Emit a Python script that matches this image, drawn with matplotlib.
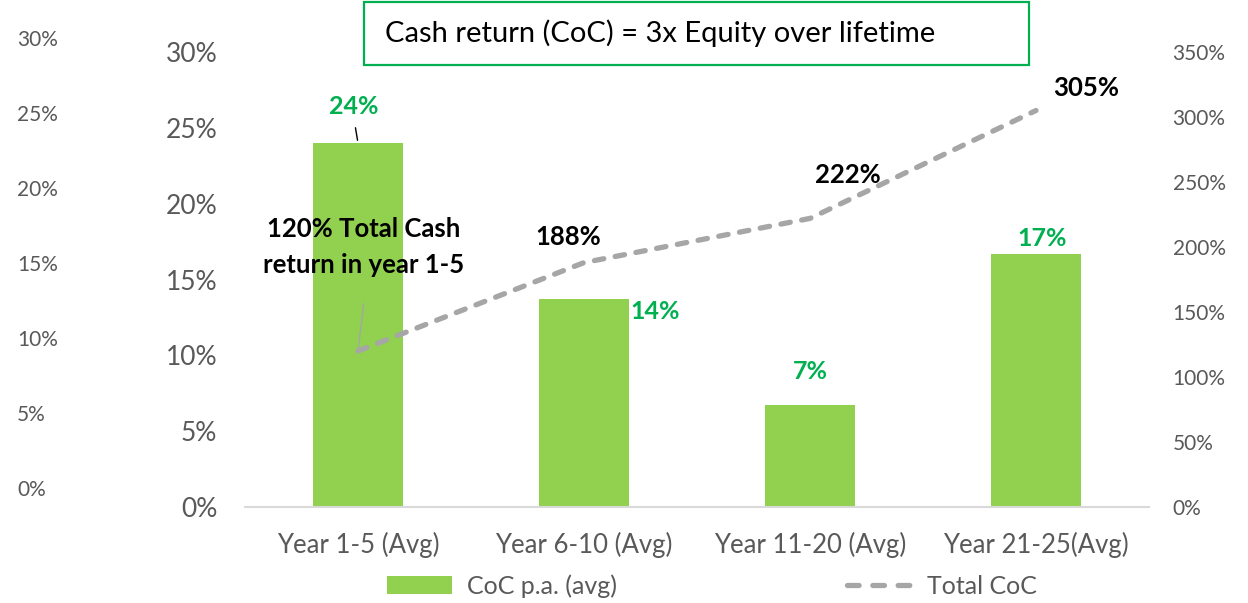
import numpy as np
import matplotlib.pyplot as plt
from matplotlib.ticker import PercentFormatter
from matplotlib.patches import Rectangle, Patch
from matplotlib.lines import Line2D

plt.rcParams['font.family'] = ['Lato', 'DejaVu Sans']

# data
categories = ['Year 1-5 (Avg)', 'Year 6-10 (Avg)', 'Year 11-20 (Avg)', 'Year 21-25(Avg)']
coc_pa = [0.240, 0.137, 0.067, 0.167]      # bars, left axis
total_coc = [1.20, 1.88, 2.22, 3.05]       # dashed line, right axis
left_ticks = [0, 0.05, 0.10, 0.15, 0.20, 0.25, 0.30]
right_ticks = [0, 0.5, 1.0, 1.5, 2.0, 2.5, 3.0, 3.5]

GREEN = '#92D050'
DARKGREEN = '#00B050'
GREY = '#595959'
LINEGREY = '#A6A6A6'

W, H = 1248, 603
fig = plt.figure(figsize=(W / 100, H / 100), dpi=100)

def fx(px):
    return px / W

def fy(py):
    return 1 - py / H

# main axes
ax = fig.add_axes([fx(245), fy(507), fx(1149) - fx(245), fy(52) - fy(507)])
x = np.arange(len(categories))
ax.bar(x, coc_pa, width=0.4, color=GREEN, zorder=2)
ax.set_xlim(-0.5, 3.5)
ax.set_ylim(0, 0.30)
ax.set_yticks(left_ticks)
ax.yaxis.set_major_formatter(PercentFormatter(1, decimals=0))
ax.set_xticks(x)
ax.set_xticklabels(categories)
for s in ['top', 'left', 'right']:
    ax.spines[s].set_visible(False)
ax.spines['bottom'].set_color('#D9D9D9')
ax.spines['bottom'].set_linewidth(1.5)
ax.tick_params(axis='y', length=0, pad=20, labelsize=19, labelcolor=GREY)
ax.tick_params(axis='x', length=0, pad=18, labelsize=18.5, labelcolor=GREY)
ax.patch.set_visible(False)

# bar value labels
bar_offsets = [(-4, 37), (71, -12), (0, 34), (6, 15)]
for i, v in enumerate(coc_pa):
    ax.annotate(f'{v:.0%}', (x[i], v), xytext=bar_offsets[i], textcoords='offset pixels',
                ha='center', va='center', color=DARKGREEN, fontsize=18, fontweight='bold')
# leader line for the first bar label
ax.annotate('', (x[0], coc_pa[0]), xytext=(-3, 18), textcoords='offset pixels',
            arrowprops=dict(arrowstyle='-', color='black', lw=1))

# right axis with cumulative line
ax2 = ax.twinx()
ax2.plot(x, total_coc, color=LINEGREY, lw=3.8, dashes=(1.8, 2.2),
         dash_capstyle='round', solid_capstyle='round', zorder=3)
ax2.set_ylim(0, 3.5)
ax2.set_yticks(right_ticks)
ax2.yaxis.set_major_formatter(PercentFormatter(1, decimals=0))
for s in ax2.spines.values():
    s.set_visible(False)
ax2.tick_params(axis='y', length=0, pad=17, labelsize=15, labelcolor=GREY)

line_labels = [f'{total_coc[0]:.0%} Total Cash\nreturn in year 1-5',
               f'{total_coc[1]:.0%}', f'{total_coc[2]:.0%}', f'{total_coc[3]:.0%}']
line_offsets = [(6, 104), (-16, 26), (38, 43), (50, 23)]
for i, v in enumerate(total_coc):
    ax2.annotate(line_labels[i], (x[i], v), xytext=line_offsets[i], textcoords='offset pixels',
                 ha='center', va='center', color='black', fontsize=18.5, fontweight='bold',
                 linespacing=1.6)
ax2.annotate('', (x[0], total_coc[0]), xytext=(6, 50), textcoords='offset pixels',
             arrowprops=dict(arrowstyle='-', color=LINEGREY, lw=1))

# extra secondary percentage scale on the far left
ax3 = fig.add_axes([fx(17), fy(488), 0.001, fy(38) - fy(488)])
ax3.set_ylim(0, 0.30)
ax3.set_yticks(left_ticks)
ax3.yaxis.set_major_formatter(PercentFormatter(1, decimals=0))
ax3.set_xticks([])
for s in ax3.spines.values():
    s.set_visible(False)
ax3.patch.set_visible(False)
ax3.tick_params(axis='y', length=0, pad=0, labelsize=15, labelcolor=GREY)
for lbl in ax3.get_yticklabels():
    lbl.set_horizontalalignment('left')

# title box
fig.add_artist(Rectangle((fx(364), fy(65)), fx(1029) - fx(364), fy(2) - fy(65),
                         transform=fig.transFigure, facecolor='white',
                         edgecolor=DARKGREEN, lw=1.6))
fig.text(fx(385), fy(33), 'Cash return (CoC) = 3x Equity over lifetime',
         ha='left', va='center', fontsize=21, color='black')

# legend
handles = [Patch(facecolor=GREEN, label='CoC p.a. (avg)'),
           Line2D([], [], color=LINEGREY, lw=3.8, dashes=(2.2, 2.6),
                  dash_capstyle='round', label='Total CoC')]
fig.legend(handles=handles, loc='center', bbox_to_anchor=(fx(712), fy(586)), ncol=2,
           frameon=False, fontsize=18, labelcolor=GREY, handlelength=2.6,
           handleheight=0.7, handletextpad=0.6, columnspacing=9.2)

fig.savefig('out.png', dpi=100)
